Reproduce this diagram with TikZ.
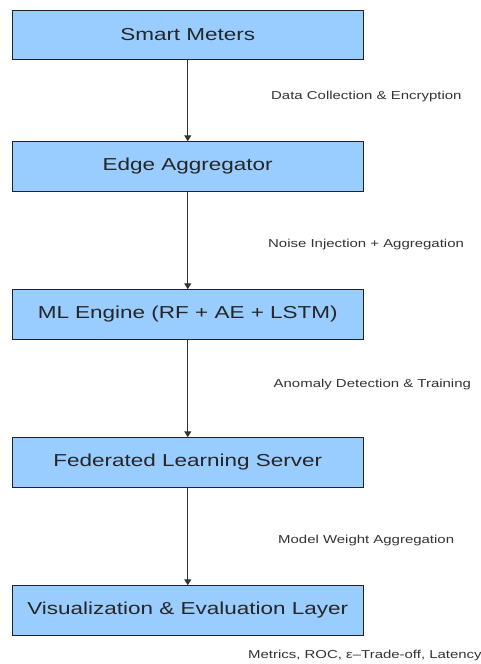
\documentclass[tikz,border=0pt]{standalone}
\usepackage{fontspec}
\setmainfont{Liberation Sans}
\newfontfamily\stretchfont[FakeStretch=1.3]{Liberation Sans}
\usetikzlibrary{arrows.meta}
\definecolor{boxfill}{HTML}{99CCFF}
\definecolor{boxline}{HTML}{222222}
\definecolor{txt}{HTML}{262626}
\definecolor{lbl}{HTML}{333333}
\tikzset{
  layerbox/.style={draw=boxline, line width=1pt, fill=boxfill, minimum width=350.5pt, minimum height=49.5pt, inner sep=0pt, text=txt, font=\stretchfont\fontsize{17.3}{20}\selectfont},
  flowlabel/.style={anchor=west, inner sep=0pt, text=lbl, font=\stretchfont\fontsize{11.5}{13}\selectfont},
  flowarrow/.style={draw=lbl, line width=1.2pt, -{Triangle[width=7pt,length=6pt]}}
}
\begin{document}
\begin{tikzpicture}[x=1pt,y=-1pt]
\useasboundingbox[fill=white] (0,0) rectangle (481,664);
\node[layerbox] (sm) at (187.75,35) {Smart Meters};
\node[layerbox] (ea) at (187.75,166.5) {Edge Aggregator};
\node[layerbox] (ml) at (187.75,314.5) {ML Engine (RF + AE + LSTM)};
\node[layerbox] (fl) at (187.75,462.5) {Federated Learning Server};
\node[layerbox] (ve) at (187.75,610.5) {Visualization \& Evaluation Layer};
\draw[flowarrow] (sm.south) -- (ea.north);
\draw[flowarrow] (ea.south) -- (ml.north);
\draw[flowarrow] (ml.south) -- (fl.north);
\draw[flowarrow] (fl.south) -- (ve.north);
\node[flowlabel] (l1) at (271,96.5) {Data Collection \& Encryption};
\node[flowlabel] (l2) at (268,244.5) {Noise Injection + Aggregation};
\node[flowlabel] (l3) at (273.5,384.5) {Anomaly Detection \& Training};
\node[flowlabel] (l4) at (278,540.5) {Model Weight Aggregation};
\node[flowlabel] (l5) at (248,655.5) {Metrics, ROC, ε–Trade-off, Latency};
\end{tikzpicture}
\end{document}
